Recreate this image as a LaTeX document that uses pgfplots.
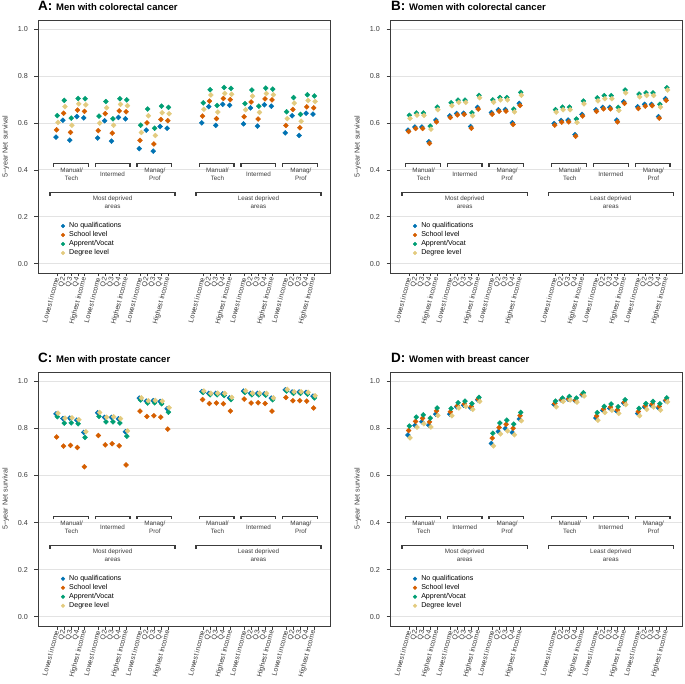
\documentclass[border=0pt]{standalone}
\usepackage{pgfplots}
\pgfplotsset{compat=1.18}
\usepackage{pgfplotstable}
\usepackage{fontspec}
\setmainfont{Liberation Sans}
\definecolor{cblue}{HTML}{0072B2}
\definecolor{corange}{HTML}{D55E00}
\definecolor{cgreen}{HTML}{009E73}
\definecolor{cyellow}{HTML}{E3CB7F}
\definecolor{gridgray}{HTML}{E3E3E3}
\definecolor{frame}{HTML}{3C3C3C}
\newcommand\fs[2]{\fontsize{#1}{#2}\selectfont}

\pgfplotstableread{
x b o g y
1 0.540 0.571 0.632 0.603
2 0.612 0.642 0.697 0.670
3 0.527 0.560 0.621 0.591
4 0.628 0.655 0.705 0.682
5 0.622 0.650 0.704 0.678
7 0.536 0.568 0.630 0.600
8 0.610 0.640 0.692 0.665
9 0.523 0.557 0.618 0.591
10 0.624 0.652 0.704 0.680
11 0.618 0.648 0.699 0.674
13 0.491 0.526 0.591 0.560
14 0.570 0.601 0.660 0.631
15 0.480 0.511 0.578 0.547
16 0.585 0.615 0.672 0.644
17 0.578 0.610 0.667 0.640
22 0.601 0.630 0.686 0.659
23 0.670 0.694 0.742 0.720
24 0.590 0.619 0.675 0.647
25 0.680 0.705 0.752 0.727
26 0.676 0.700 0.748 0.723
28 0.597 0.627 0.683 0.657
29 0.665 0.690 0.741 0.715
30 0.587 0.617 0.672 0.646
31 0.678 0.703 0.749 0.726
32 0.672 0.699 0.745 0.721
34 0.558 0.590 0.648 0.619
35 0.631 0.658 0.709 0.685
36 0.547 0.580 0.637 0.608
37 0.642 0.669 0.721 0.696
38 0.638 0.665 0.716 0.692
}\dataA

\pgfplotstableread{
x b o g y
1 0.570 0.564 0.633 0.620
2 0.583 0.577 0.643 0.634
3 0.583 0.577 0.643 0.633
4 0.520 0.513 0.587 0.574
5 0.613 0.605 0.668 0.657
7 0.631 0.624 0.687 0.674
8 0.641 0.635 0.698 0.688
9 0.642 0.637 0.698 0.688
10 0.585 0.578 0.644 0.631
11 0.667 0.660 0.718 0.708
13 0.645 0.638 0.699 0.689
14 0.657 0.650 0.709 0.699
15 0.658 0.651 0.709 0.699
16 0.601 0.594 0.660 0.648
17 0.684 0.675 0.731 0.719
22 0.598 0.591 0.657 0.647
23 0.611 0.604 0.668 0.657
24 0.613 0.605 0.668 0.657
25 0.551 0.544 0.617 0.603
26 0.637 0.630 0.694 0.682
28 0.657 0.650 0.708 0.695
29 0.667 0.661 0.717 0.704
30 0.667 0.661 0.717 0.704
31 0.613 0.605 0.667 0.654
32 0.691 0.684 0.741 0.729
34 0.670 0.662 0.724 0.712
35 0.680 0.672 0.729 0.718
36 0.680 0.674 0.729 0.718
37 0.628 0.621 0.680 0.668
38 0.704 0.697 0.751 0.741
}\dataB

\pgfplotstableread{
x b o g y
1 0.862 0.764 0.850 0.865
2 0.842 0.725 0.823 0.844
3 0.844 0.728 0.824 0.845
4 0.835 0.719 0.820 0.837
5 0.783 0.637 0.762 0.786
7 0.867 0.770 0.851 0.868
8 0.847 0.730 0.828 0.848
9 0.847 0.735 0.828 0.850
10 0.841 0.726 0.823 0.842
11 0.786 0.645 0.767 0.790
13 0.929 0.874 0.921 0.930
14 0.916 0.851 0.908 0.918
15 0.918 0.854 0.909 0.919
16 0.915 0.848 0.905 0.916
17 0.884 0.797 0.869 0.888
22 0.957 0.923 0.953 0.959
23 0.949 0.906 0.943 0.950
24 0.949 0.908 0.943 0.950
25 0.947 0.905 0.940 0.949
26 0.930 0.874 0.923 0.932
28 0.959 0.925 0.953 0.960
29 0.949 0.908 0.943 0.950
30 0.949 0.909 0.943 0.950
31 0.947 0.906 0.942 0.949
32 0.929 0.874 0.922 0.930
34 0.964 0.932 0.959 0.966
35 0.955 0.918 0.949 0.956
36 0.955 0.918 0.949 0.956
37 0.953 0.916 0.946 0.954
38 0.937 0.887 0.930 0.939
}\dataC

\pgfplotstableread{
x b o g y
1 0.772 0.791 0.810 0.760
2 0.813 0.830 0.848 0.806
3 0.828 0.843 0.858 0.820
4 0.814 0.828 0.844 0.806
5 0.861 0.875 0.887 0.855
7 0.861 0.871 0.885 0.854
8 0.892 0.896 0.909 0.887
9 0.899 0.904 0.916 0.894
10 0.888 0.894 0.906 0.881
11 0.922 0.925 0.932 0.915
13 0.736 0.759 0.780 0.726
14 0.787 0.804 0.823 0.777
15 0.800 0.818 0.835 0.790
16 0.783 0.801 0.818 0.773
17 0.840 0.854 0.868 0.833
22 0.902 0.906 0.916 0.892
23 0.921 0.921 0.929 0.915
24 0.925 0.926 0.936 0.921
25 0.918 0.919 0.929 0.912
26 0.943 0.945 0.952 0.938
28 0.844 0.853 0.867 0.835
29 0.877 0.882 0.894 0.868
30 0.885 0.891 0.904 0.877
31 0.874 0.879 0.892 0.864
32 0.908 0.911 0.922 0.901
34 0.864 0.872 0.885 0.854
35 0.891 0.896 0.906 0.881
36 0.898 0.904 0.915 0.891
37 0.887 0.894 0.905 0.878
38 0.918 0.921 0.930 0.913
}\dataD

\pgfplotsset{
  panel/.style={
    scale only axis,
    xmin=-1.73, xmax=40.3, ymin=-0.04, ymax=1.04,
    clip=false,
    axis line style={frame, line width=0.9pt},
    tick style={frame, line width=0.6pt},
    tick align=outside,
    tick pos=left,
    major tick length=3.5pt,
    xtick={1,2,3,4,5,7,8,9,10,11,13,14,15,16,17,22,23,24,25,26,28,29,30,31,32,34,35,36,37,38},
    xticklabels={Lowest income,Q2,Q3,Q4,Highest income,Lowest income,Q2,Q3,Q4,Highest income,Lowest income,Q2,Q3,Q4,Highest income,Lowest income,Q2,Q3,Q4,Highest income,Lowest income,Q2,Q3,Q4,Highest income,Lowest income,Q2,Q3,Q4,Highest income},
    xticklabel style={rotate=75, anchor=east, font=\fs{7}{8}, inner sep=1pt, text=frame},
    ytick={0,0.2,0.4,0.6,0.8,1.0},
    yticklabels={0.0,0.2,0.4,0.6,0.8,1.0},
    yticklabel style={font=\fs{7.2}{8}, xshift=-3pt, text=frame},
    ymajorgrids,
    grid style={draw=gridgray, line width=0.9pt},
    ylabel={5\textminus year Net survival},
    every axis y label/.style={at={(axis description cs:-0.11,0.5)}, rotate=90, anchor=center, font=\fs{7.2}{8}, text=frame},
    legend entries={No qualifications,School level,Apprent/Vocat,Degree level},
    legend cell align=left,
    legend style={at={(axis cs:1.6,0.18)}, anchor=north west, draw=none, fill=none,
      inner sep=0pt, outer sep=0pt, row sep=0pt,
      font=\fs{7.1}{8},
      nodes={inner sep=0.9pt, text height=5.6pt, text depth=1.6pt},
      /tikz/every odd column/.append style={column sep=3.5pt}},
    legend image code/.code={\draw[##1, mark size=1.3pt] plot coordinates {(0cm,0cm)};},
  },
  mk/.style={only marks, mark=square*, mark size=1.75pt, color=#1, mark options={rotate=45, draw=none, fill=#1}},
}

\newcommand{\panelplots}[1]{%
  \addplot[mk=cblue] table[x expr=\thisrow{x}-0.15, y=b]{#1};
  \addplot[mk=corange] table[x expr=\thisrow{x}-0.05, y=o]{#1};
  \addplot[mk=cgreen] table[x expr=\thisrow{x}+0.05, y=g]{#1};
  \addplot[mk=cyellow] table[x expr=\thisrow{x}+0.15, y=y]{#1};
}
\newcommand{\brk}[3]{\draw[frame, line width=1.3pt] (axis cs:#1,#3-0.014) -- (axis cs:#1,#3) -- (axis cs:#2,#3) -- (axis cs:#2,#3-0.014);}
\newcommand{\brackets}{%
  \brk{0.5}{5.5}{0.427}
  \brk{6.5}{11.5}{0.427}
  \brk{12.5}{17.5}{0.427}
  \brk{21.5}{26.5}{0.427}
  \brk{27.5}{32.5}{0.427}
  \brk{33.5}{38.5}{0.427}
  \brk{0}{18}{0.303}
  \brk{21}{39}{0.303}
  \node[font=\fs{6.3}{7.8}, align=center, text=frame] at (axis cs:3.1,0.38) {Manual/\\Tech};
  \node[font=\fs{6.3}{7.8}, align=center, text=frame] at (axis cs:9,0.38) {Intermed};
  \node[font=\fs{6.3}{7.8}, align=center, text=frame] at (axis cs:15.1,0.38) {Manag/\\Prof};
  \node[font=\fs{6.3}{7.8}, align=center, text=frame] at (axis cs:24.1,0.38) {Manual/\\Tech};
  \node[font=\fs{6.3}{7.8}, align=center, text=frame] at (axis cs:30,0.38) {Intermed};
  \node[font=\fs{6.3}{7.8}, align=center, text=frame] at (axis cs:36.1,0.38) {Manag/\\Prof};
  \node[font=\fs{6.3}{7.8}, align=center, text=frame] at (axis cs:9,0.261) {Most deprived\\areas};
  \node[font=\fs{6.3}{7.8}, align=center, text=frame] at (axis cs:30,0.261) {Least deprived\\areas};
}

\begin{document}
\begin{tikzpicture}
\path[use as bounding box] (0,0) rectangle (685pt,683pt);
\begin{axis}[panel, at={(38pt,410pt)}, anchor=south west, width=292pt, height=253pt]
\panelplots{\dataA}
\brackets
\end{axis}
\begin{axis}[panel, at={(390pt,410pt)}, anchor=south west, width=292.5pt, height=253pt]
\panelplots{\dataB}
\brackets
\end{axis}
\begin{axis}[panel, at={(38pt,57pt)}, anchor=south west, width=292pt, height=254pt]
\panelplots{\dataC}
\brackets
\end{axis}
\begin{axis}[panel, at={(390pt,57pt)}, anchor=south west, width=292.5pt, height=254pt]
\panelplots{\dataD}
\brackets
\end{axis}
\node[anchor=base west, inner sep=0pt] at (38pt,672pt) {\fs{13.5}{14}\bfseries A: \fs{9.5}{10}Men with colorectal cancer};
\node[anchor=base west, inner sep=0pt] at (391pt,672pt) {\fs{13.5}{14}\bfseries B: \fs{9.5}{10}Women with colorectal cancer};
\node[anchor=base west, inner sep=0pt] at (38pt,320pt) {\fs{13.5}{14}\bfseries C: \fs{9.5}{10}Men with prostate cancer};
\node[anchor=base west, inner sep=0pt] at (391pt,320pt) {\fs{13.5}{14}\bfseries D: \fs{9.5}{10}Women with breast cancer};
\end{tikzpicture}
\end{document}
